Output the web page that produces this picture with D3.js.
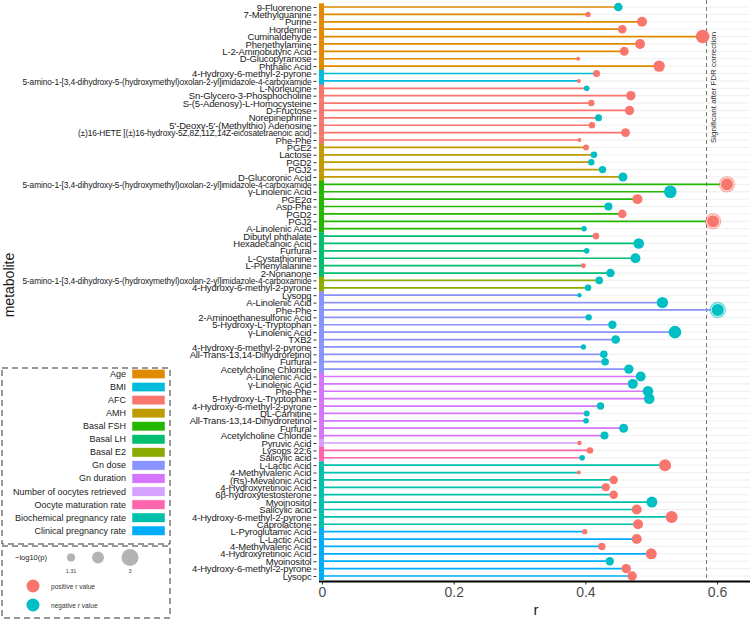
<!DOCTYPE html>
<html>
<head>
<meta charset="utf-8">
<script src="https://cdn.jsdelivr.net/npm/d3@7"></script>
<style>
  body { margin: 0; background: #fff; }
  svg { display: block; font-family: "Liberation Sans", Arial, sans-serif; }
</style>
</head>
<body>
<div id="chart"></div>
<script>
// metabolite rows, top to bottom
const metabolites = [
  '9-Fluorenone', '7-Methylguanine', 'Purine', 'Hordenine', 'Cuminaldehyde',
  'Phenethylamine', 'L-2-Aminobutyric Acid', 'D-Glucopyranose', 'Phthalic Acid',
  '4-Hydroxy-6-methyl-2-pyrone',
  '5-amino-1-[3,4-dihydroxy-5-(hydroxymethyl)oxolan-2-yl]imidazole-4-carboxamide',
  'L-Norleucine', 'Sn-Glycero-3-Phosphocholine', 'S-(5-Adenosy)-L-Homocysteine',
  'D-Fructose', 'Norepinephrine', "5'-Deoxy-5'-(Methylthio) Adenosine",
  '(±)16-HETE [(±)16-hydroxy-5Z,8Z,11Z,14Z-eicosatetraenoic acid]', 'Phe-Phe',
  'PGE2', 'Lactose', 'PGD2', 'PGJ2', 'D-Glucoronic Acid',
  '5-amino-1-[3,4-dihydroxy-5-(hydroxymethyl)oxolan-2-yl]imidazole-4-carboxamide',
  'γ-Linolenic Acid', 'PGE2α', 'Asp-Phe', 'PGD2', 'PGJ2', 'A-Linolenic Acid',
  'Dibutyl phthalate', 'Hexadecanoic Acid', 'Furfural', 'L-Cystathionine',
  'L-Phenylalanine', '2-Nonanone',
  '5-amino-1-[3,4-dihydroxy-5-(hydroxymethyl)oxolan-2-yl]imidazole-4-carboxamide',
  '4-Hydroxy-6-methyl-2-pyrone', 'Lysopg', 'A-Linolenic Acid', 'Phe-Phe',
  '2-Aminoethanesulfonic Acid', '5-Hydroxy-L-Tryptophan', 'γ-Linolenic Acid', 'TXB2',
  '4-Hydroxy-6-methyl-2-pyrone', 'All-Trans-13,14-Dihydroretinol', 'Furfural',
  'Acetylcholine Chloride', 'A-Linolenic Acid', 'γ-Linolenic Acid', 'Phe-Phe',
  '5-Hydroxy-L-Tryptophan', '4-Hydroxy-6-methyl-2-pyrone', 'DL-Carnitine',
  'All-Trans-13,14-Dihydroretinol', 'Furfural', 'Acetylcholine Chloride',
  'Pyruvic Acid', 'Lysops 22:6', 'Salicylic acid', 'L-Lactic Acid',
  '4-Methylvaleric Acid', '(Rs)-Mevalonic Acid', '4-Hydroxyretinoic Acid',
  '6β-hydroxytestosterone', 'Myoinositol', 'Salicylic acid',
  '4-Hydroxy-6-methyl-2-pyrone', 'Caprolactone', 'L-Pyroglutamic Acid',
  'L-Lactic Acid', '4-Methylvaleric Acid', '4-Hydroxyretinoic Acid', 'Myoinositol',
  '4-Hydroxy-6-methyl-2-pyrone', 'Lysopc'
];

// correlation r (sign decides the point colour, sticks use |r|)
const rValues = [
  -0.450, 0.404, 0.486, 0.456, 0.578, 0.483, 0.459, 0.389, 0.512, 0.417,
  0.390, -0.402, 0.469, 0.409, 0.467, -0.420, 0.410, 0.461, 0.391, 0.401,
  -0.413, -0.409, -0.426, -0.457, 0.615, -0.529, 0.479, -0.435, 0.456, 0.594,
  -0.398, 0.416, -0.481, -0.402, -0.476, 0.397, -0.438, -0.421, -0.404, -0.391,
  -0.517, -0.601, -0.405, -0.441, -0.536, -0.446, -0.397, -0.428, -0.430, -0.466,
  -0.484, -0.472, -0.495, -0.497, -0.423, -0.402, -0.401, -0.458, -0.429, 0.391,
  0.407, -0.395, 0.521, 0.390, 0.443, 0.431, 0.443, -0.501, 0.478, 0.531,
  0.480, 0.399, 0.478, 0.425, 0.500, -0.437, 0.462, 0.471
];

// -log10(p)
const negLogP = [
  1.38, 0.77, 1.65, 1.38, 2.35, 1.65, 1.46, 0.50, 1.92, 1.08,
  0.50, 0.81, 1.54, 0.96, 1.54, 1.08, 0.96, 1.46, 0.50, 0.88,
  1.00, 0.96, 1.15, 1.46, 2.42, 2.15, 1.65, 1.27, 1.38, 2.42,
  0.77, 1.00, 1.77, 0.81, 1.65, 0.69, 1.38, 1.19, 1.00, 0.58,
  1.92, 2.42, 0.96, 1.35, 2.15, 1.38, 0.77, 1.19, 1.19, 1.54,
  1.65, 1.65, 1.77, 1.77, 1.15, 0.88, 0.81, 1.46, 1.27, 0.58,
  0.96, 0.81, 2.04, 0.50, 1.35, 1.27, 1.35, 1.85, 1.65, 2.04,
  1.65, 0.77, 1.65, 1.15, 1.85, 1.35, 1.54, 1.54
];

// clinical variables and how many rows each one has (in row order)
const groupNames = [
  'Age', 'BMI', 'AFC', 'AMH', 'Basal FSH', 'Basal LH', 'Basal E2', 'Gn dose',
  'Gn duration', 'Number of oocytes retrieved', 'Oocyte maturation rate',
  'Biochemical pregnancy rate', 'Clinical pregnancy rate'
];
const groupSizes = [9, 2, 8, 5, 7, 6, 2, 11, 9, 1, 2, 9, 7];
const groupColors = [
  '#E18A00', '#00BBDA', '#F8766D', '#BE9C00', '#24B700', '#00BE70', '#8CAB00',
  '#8B93FF', '#D575FE', '#D6A0FF', '#FF65AC', '#00C1AB', '#00ACFC'
];

const xTicks = [0, 0.2, 0.4, 0.6];
const fdrCutoff = 0.584;
const sizeLegendValues = [1.31, 2, 3];
const sizeLegendLabels = ['1.31', '', '3'];
const signNames = ['positive r value', 'negative r value'];
const signColors = ['#F8766D', '#00BFC4'];

// expand group sizes to one group index per row
const groupOf = groupSizes.flatMap((n, g) => d3.range(n).map(() => g));

const rows = metabolites.map((name, i) => ({
  i, name, r: rValues[i], p: negLogP[i], group: groupOf[i]
}));

const width = 750;
const height = 620;

const svg = d3.select('#chart')
  .append('svg')
  .attr('width', width)
  .attr('height', height);

const x = d3.scaleLinear().domain([0, 0.65]).range([322, 750]);
const y = d3.scalePoint().domain(d3.range(rows.length)).range([7, 576]);
const size = d3.scaleLinear().domain([0.5, 3]).range([2, 8.5]);
const step = y.step();
const axisY = 581.5;

// horizontal grid
svg.append('g')
  .selectAll('line')
  .data(rows)
  .join('line')
  .attr('x1', x(0))
  .attr('x2', x.range()[1])
  .attr('y1', d => y(d.i))
  .attr('y2', d => y(d.i))
  .attr('stroke', '#ebebeb')
  .attr('stroke-width', 0.8);

// FDR threshold
svg.append('line')
  .attr('x1', x(fdrCutoff))
  .attr('x2', x(fdrCutoff))
  .attr('y1', 0)
  .attr('y2', axisY)
  .attr('stroke', '#666')
  .attr('stroke-width', 0.9)
  .attr('stroke-dasharray', '4,3');

svg.append('text')
  .attr('transform', `translate(${x(fdrCutoff) + 7},143) rotate(-90)`)
  .attr('dominant-baseline', 'central')
  .style('font-size', '8px')
  .style('fill', '#333')
  .text('Significant after FDR correction');

// lollipop sticks
svg.append('g')
  .selectAll('line')
  .data(rows)
  .join('line')
  .attr('x1', x(0))
  .attr('x2', d => x(Math.abs(d.r)))
  .attr('y1', d => y(d.i))
  .attr('y2', d => y(d.i))
  .attr('stroke', d => groupColors[d.group])
  .attr('stroke-width', 1.7);

// group colour strip along the axis
svg.append('g')
  .selectAll('rect')
  .data(rows)
  .join('rect')
  .attr('x', x(0) - 3)
  .attr('width', 5)
  .attr('y', d => y(d.i) - step / 2)
  .attr('height', step + 0.3)
  .attr('fill', d => groupColors[d.group]);

// points; significant ones get a halo
const pointColor = d => d.r >= 0 ? signColors[0] : signColors[1];
const sig = rows.filter(d => Math.abs(d.r) > fdrCutoff);

svg.append('g')
  .selectAll('circle')
  .data(sig)
  .join('circle')
  .attr('cx', d => x(Math.abs(d.r)))
  .attr('cy', d => y(d.i))
  .attr('r', d => size(d.p) + 1.2)
  .attr('fill', pointColor)
  .attr('opacity', 0.55);

svg.append('g')
  .selectAll('circle')
  .data(rows)
  .join('circle')
  .attr('cx', d => x(Math.abs(d.r)))
  .attr('cy', d => y(d.i))
  .attr('r', d => Math.abs(d.r) > fdrCutoff ? size(d.p) - 0.6 : size(d.p))
  .attr('fill', pointColor)
  .attr('stroke', d => Math.abs(d.r) > fdrCutoff ? '#fff' : 'none')
  .attr('stroke-width', 0.7);

// y axis with metabolite names
const yAxisG = svg.append('g')
  .attr('transform', 'translate(316.5,0)')
  .call(d3.axisLeft(y).tickFormat(i => metabolites[i]).tickSize(3).tickPadding(2));
yAxisG.select('.domain').remove();
yAxisG.selectAll('.tick line').attr('stroke', '#333');
yAxisG.selectAll('.tick text')
  .attr('dy', '0.33em')
  .style('font-size', '9.5px')
  .style('letter-spacing', '-0.15px')
  .style('fill', '#1a1a1a')
  .attr('font-family', null)
  .each(function () {
    // long chemical names are drawn narrower in the original
    const w = this.getComputedTextLength();
    if (w > 200) {
      d3.select(this).attr('textLength', w * 0.88).attr('lengthAdjust', 'spacingAndGlyphs');
    }
  });

svg.append('text')
  .attr('transform', 'translate(9,285) rotate(-90)')
  .attr('text-anchor', 'middle')
  .attr('dominant-baseline', 'central')
  .style('font-size', '14px')
  .style('fill', '#1a1a1a')
  .text('metabolite');

// x axis
const xAxisG = svg.append('g')
  .attr('transform', `translate(0,${axisY})`)
  .call(d3.axisBottom(x).tickValues(xTicks).tickFormat(d => d === 0 ? '0' : d3.format('.1f')(d))
    .tickSize(3).tickPadding(3));
xAxisG.select('.domain').remove();
xAxisG.selectAll('.tick line').attr('stroke', '#333');
xAxisG.selectAll('.tick text')
  .attr('font-family', null)
  .style('font-size', '14px')
  .style('fill', '#4d4d4d');

svg.append('line')
  .attr('x1', x(0) - 3)
  .attr('x2', width)
  .attr('y1', axisY)
  .attr('y2', axisY)
  .attr('stroke', '#000')
  .attr('stroke-width', 2.2);

svg.append('text')
  .attr('x', (x.range()[0] + x.range()[1]) / 2)
  .attr('y', 615)
  .attr('text-anchor', 'middle')
  .style('font-size', '15px')
  .style('fill', '#1a1a1a')
  .text('r');

// legend: clinical variables
const legend = svg.append('g');
legend.append('rect')
  .attr('x', 2).attr('y', 368).attr('width', 168).attr('height', 176)
  .attr('fill', 'none')
  .attr('stroke', '#333')
  .attr('stroke-dasharray', '6,4');

const items = legend.selectAll('g.item')
  .data(groupNames)
  .join('g')
  .attr('class', 'item')
  .attr('transform', (d, i) => `translate(0,${374 + i * 13.06})`);
items.append('text')
  .attr('x', 126)
  .attr('text-anchor', 'end')
  .attr('dominant-baseline', 'central')
  .style('font-size', '9px')
  .style('fill', '#222')
  .text(d => d);
items.append('rect')
  .attr('x', 132).attr('y', -4.7).attr('width', 33).attr('height', 9.4)
  .attr('fill', (d, i) => groupColors[i])
  .attr('stroke', '#fff')
  .attr('stroke-width', 0.5);

// legend: size and sign
const legend2 = svg.append('g');
legend2.append('rect')
  .attr('x', 2).attr('y', 546).attr('width', 168).attr('height', 72)
  .attr('fill', 'none')
  .attr('stroke', '#333')
  .attr('stroke-dasharray', '6,4');

legend2.append('text')
  .attr('x', 15).attr('y', 557)
  .attr('dominant-baseline', 'central')
  .style('font-size', '7.5px')
  .style('fill', '#222')
  .text('−log10(p)');

const sizeX = [71, 98, 130];
legend2.selectAll('circle.size')
  .data(sizeLegendValues)
  .join('circle')
  .attr('class', 'size')
  .attr('cx', (d, i) => sizeX[i])
  .attr('cy', 557.5)
  .attr('r', d => size(d))
  .attr('fill', '#b3b3b3');
legend2.selectAll('text.size')
  .data(sizeLegendLabels)
  .join('text')
  .attr('class', 'size')
  .attr('x', (d, i) => sizeX[i])
  .attr('y', 571)
  .attr('text-anchor', 'middle')
  .attr('dominant-baseline', 'central')
  .style('font-size', '5.5px')
  .style('fill', '#444')
  .text(d => d);

const signItems = legend2.selectAll('g.sign')
  .data(signNames)
  .join('g')
  .attr('class', 'sign')
  .attr('transform', (d, i) => `translate(0,${586 + i * 19})`);
signItems.append('circle')
  .attr('cx', 33)
  .attr('r', 6.5)
  .attr('fill', (d, i) => signColors[i]);
signItems.append('text')
  .attr('x', 51)
  .attr('dominant-baseline', 'central')
  .style('font-size', '6.6px')
  .style('fill', '#333')
  .text(d => d);
</script>
</body>
</html>
